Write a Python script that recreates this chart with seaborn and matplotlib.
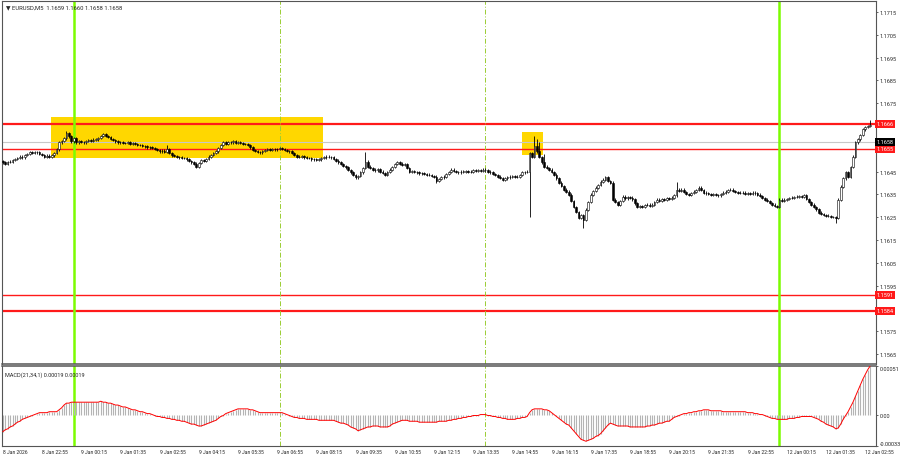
import numpy as np
import pandas as pd
import matplotlib.pyplot as plt
import matplotlib.transforms as mtransforms
from matplotlib.patches import Rectangle
import seaborn as sns

# EURUSD M5 closes, in points (0.00001) above 1.16000, one per bar
close_pts = [
    490, 485, 492, 494, 500, 505, 510, 516, 512, 522,
    528, 534, 530, 536, 534, 528, 522, 516, 520, 514,
    521, 530, 547, 578, 585, 595, 618, 604, 582, 596,
    578, 584, 580, 578, 583, 587, 584, 590, 591, 598,
    606, 613, 605, 600, 594, 588, 582, 578, 580, 575,
    574, 578, 571, 574, 570, 568, 565, 562, 560, 556,
    558, 552, 548, 544, 538, 542, 536, 547, 530, 521,
    518, 515, 512, 508, 510, 503, 497, 490, 485, 472,
    488, 499, 496, 506, 516, 524, 530, 538, 552, 566,
    578, 572, 581, 578, 583, 576, 578, 574, 570, 572,
    565, 556, 543, 540, 536, 534, 540, 544, 547, 544,
    550, 547, 550, 552, 548, 545, 540, 538, 530, 522,
    516, 514, 518, 512, 508, 510, 503, 506, 500, 503,
    508, 512, 516, 514, 512, 505, 498, 490, 482, 475,
    468, 458, 446, 436, 424, 432, 446, 465, 494, 472,
    466, 459, 455, 462, 450, 444, 437, 448, 459, 470,
    482, 490, 485, 478, 481, 466, 450, 452, 448, 446,
    442, 445, 440, 437, 434, 431, 428, 410, 418, 424,
    428, 440, 448, 459, 452, 448, 446, 450, 450, 454,
    448, 450, 456, 452, 455, 452, 459, 455, 450, 446,
    440, 434, 428, 422, 415, 420, 424, 428, 432, 426,
    428, 436, 446, 448, 450, 530, 516, 560, 538, 515,
    490, 472, 466, 459, 448, 437, 420, 402, 388, 371,
    362, 349, 320, 296, 272, 248, 260, 239, 283, 318,
    349, 365, 380, 392, 406, 415, 424, 410, 402, 327,
    318, 305, 322, 340, 332, 338, 336, 328, 310, 296,
    300, 296, 302, 305, 300, 305, 315, 327, 320, 330,
    327, 334, 330, 336, 345, 371, 365, 371, 360, 352,
    349, 356, 362, 370, 380, 368, 358, 354, 350, 349,
    352, 346, 345, 350, 358, 362, 368, 371, 366, 360,
    358, 355, 358, 353, 356, 352, 358, 354, 349, 342,
    335, 327, 320, 312, 305, 300, 296, 327, 322, 327,
    330, 333, 336, 338, 340, 342, 338, 345, 330, 318,
    305, 296, 284, 270, 264, 260, 257, 255, 252, 250,
    248, 327, 384, 420, 446, 428, 470, 516, 578, 591,
    610, 635, 644, 650, 655,
]
# bars whose wick sticks out further than usual (bar index: points)
spike_high = {26: 627, 67: 565, 148: 534, 217: 604, 218: 591, 219: 580,
              221: 525, 275: 406, 354: 675}
spike_low = {177: 402, 215: 252, 237: 204, 340: 226}

# MACD(21,34,1) main line in points (0.00001)
macd_pts = [
    -18, -16, -15, -13, -12, -10, -8, -7, -5, -4,
    -3, -2, -1, 0, 1, 2, 2, 2, 2, 3,
    3, 3, 3, 5, 7, 10, 12, 12, 13, 13,
    13, 13, 13, 13, 13, 13, 13, 13, 13, 13,
    14, 13, 13, 12, 12, 11, 10, 10, 9, 8,
    8, 7, 6, 5, 5, 4, 3, 3, 2, 1,
    1, 0, -1, -2, -2, -3, -3, -4, -4, -5,
    -5, -6, -6, -7, -7, -8, -9, -10, -10, -11,
    -12, -12, -11, -10, -9, -8, -7, -6, -4, -2,
    -1, 1, 2, 3, 4, 5, 6, 6, 6, 6,
    6, 5, 5, 4, 3, 2, 2, 2, 2, 2,
    2, 2, 2, 2, 2, 1, 0, -1, -2, -3,
    -3, -4, -4, -4, -5, -5, -5, -5, -5, -6,
    -6, -6, -6, -6, -6, -6, -7, -8, -9, -9,
    -10, -11, -13, -14, -15, -17, -16, -15, -14, -13,
    -13, -12, -12, -12, -13, -13, -13, -13, -12, -10,
    -9, -8, -7, -6, -6, -6, -7, -7, -7, -7,
    -8, -8, -8, -8, -8, -8, -8, -8, -7, -7,
    -7, -7, -6, -6, -5, -5, -4, -4, -3, -3,
    -2, -2, -1, -1, -1, 0, 0, 0, -1, -1,
    -2, -2, -3, -3, -4, -4, -5, -5, -5, -5,
    -4, -4, -3, -3, -2, 2, 5, 6, 6, 6,
    6, 5, 5, 4, 2, 0, -2, -4, -6, -8,
    -10, -11, -14, -17, -20, -23, -26, -27, -28, -27,
    -26, -25, -23, -22, -20, -17, -14, -11, -9, -10,
    -11, -12, -12, -12, -12, -12, -13, -13, -13, -13,
    -13, -13, -13, -12, -12, -11, -11, -10, -9, -9,
    -8, -7, -7, -5, -3, -2, -1, 0, 1, 1,
    2, 2, 3, 3, 4, 4, 5, 5, 5, 4,
    4, 4, 4, 4, 3, 3, 3, 3, 3, 3,
    3, 3, 3, 3, 2, 2, 2, 1, 1, 0,
    0, -1, -2, -3, -4, -4, -5, -5, -5, -5,
    -5, -4, -4, -4, -3, -3, -2, -2, -2, -2,
    -2, -3, -4, -5, -7, -8, -10, -11, -12, -13,
    -15, -14, -10, -5, -1, 3, 8, 13, 19, 25,
    31, 37, 42, 47, 51,
]

time_labels = [
    "8 Jan 2026", "8 Jan 22:55", "9 Jan 00:15", "9 Jan 01:35", "9 Jan 02:55",
    "9 Jan 04:15", "9 Jan 05:35", "9 Jan 06:55", "9 Jan 08:15", "9 Jan 09:35",
    "9 Jan 10:55", "9 Jan 12:15", "9 Jan 13:35", "9 Jan 14:55", "9 Jan 16:15",
    "9 Jan 17:35", "9 Jan 18:55", "9 Jan 20:15", "9 Jan 21:35", "9 Jan 22:55",
    "12 Jan 00:15", "12 Jan 01:35", "12 Jan 02:55",
]
price_ticks = [1.1565, 1.1575, 1.1585, 1.1595, 1.1605, 1.1615, 1.1625, 1.1635,
               1.1645, 1.1655, 1.1665, 1.1675, 1.1685, 1.1695, 1.1705, 1.1715]
hidden_ticks = [1.1585, 1.1655, 1.1665]  # covered by the level tags

levels = [1.1666, 1.1655, 1.1591, 1.1584]
bid = 1.1658
zone_bars = [(19.6, 130.6), (212.0, 220.5)]
zone_prices = [(1.16511, 1.16691), (1.16521, 1.16622)]
day_bars = [29, 317]      # 9 Jan 00:00, 12 Jan 00:00
session_bars = [113, 197]  # 9 Jan 07:00, 9 Jan 14:00

sns.set_style("white")
plt.rcParams["font.family"] = ["Roboto", "DejaVu Sans"]

close = 1.16 + np.array(close_pts) / 1e5
df = pd.DataFrame({"bar": np.arange(len(close)), "close": close})
df["open"] = df["close"].shift(1).fillna(df["close"].iloc[0] + 0.00005)
wick = 0.00005
df["high"] = df[["open", "close"]].max(axis=1) + wick
df["low"] = df[["open", "close"]].min(axis=1) - wick
for k, v in spike_high.items():
    df.loc[k, "high"] = 1.16 + v / 1e5
for k, v in spike_low.items():
    df.loc[k, "low"] = 1.16 + v / 1e5
df["macd"] = np.array(macd_pts) / 1e5

fig = plt.figure(figsize=(9, 4.6), dpi=100)
ax = fig.add_axes([2 / 900, 1 - 365 / 460, 874 / 900, 363 / 460])
mx = fig.add_axes([2 / 900, 1 - 447 / 460, 874 / 900, 80 / 460])

# zones + levels
for (b0, b1), (p0, p1) in zip(zone_bars, zone_prices):
    ax.add_patch(Rectangle((b0, p0), b1 - b0, p1 - p0, facecolor="#ffd700",
                           edgecolor="none", zorder=0))
for lv, lw in zip(levels, [1.6, 1.0, 1.0, 1.6]):
    ax.axhline(lv, color="#ff1a1a", lw=lw, zorder=1)
ax.axhline(bid, color="#c8c8c8", lw=0.8, zorder=1)

for b in day_bars:
    ax.axvline(b, color="#7cfc00", lw=1.8, zorder=1)
    mx.axvline(b, color="#7cfc00", lw=1.8, zorder=1)
for b in session_bars:
    ax.axvline(b, color="#9acd32", lw=0.7, ls=(0, (5, 2, 1, 2)), zorder=1)
    mx.axvline(b, color="#9acd32", lw=0.7, ls=(0, (5, 2, 1, 2)), zorder=1)

# candles
up = df["close"] >= df["open"]
ax.vlines(df["bar"], df["low"], df["high"], color="black", lw=0.6, zorder=3)
body = (df["close"] - df["open"]).abs().clip(lower=0.00001)
bot = df[["open", "close"]].min(axis=1)
ax.bar(df["bar"][up], body[up], bottom=bot[up], width=0.7, color="white",
       edgecolor="black", lw=0.4, zorder=4)
ax.bar(df["bar"][~up], body[~up], bottom=bot[~up], width=0.7, color="black",
       edgecolor="black", lw=0.4, zorder=4)

ax.set_xlim(-0.3, 356.4)
ax.set_ylim(1.15606, 1.17198)
ax.yaxis.tick_right()
ax.set_yticks(price_ticks)
ax.set_yticklabels(["" if p in hidden_ticks else f"{p:.4f}" for p in price_ticks])
ax.tick_params(axis="y", direction="out", length=1.5, width=0.5, labelsize=4, pad=1)
ax.tick_params(axis="x", bottom=False, labelbottom=False)

tr = mtransforms.blended_transform_factory(ax.transAxes, ax.transData)
for lv in levels:
    ax.text(1.001, lv, f"{lv:.4f}", transform=tr, color="white", fontsize=4,
            va="center", ha="left", clip_on=False, zorder=10,
            bbox=dict(facecolor="#ff1a1a", edgecolor="none", pad=1.0))
ax.text(1.001, bid, f"{bid:.4f}", transform=tr, color="white", fontsize=4,
        va="center", ha="left", clip_on=False, zorder=10,
        bbox=dict(facecolor="black", edgecolor="none", pad=1.0))
ax.text(0.005, 0.99, "\u25bc EURUSD,M5  1.1659 1.1660 1.1658 1.1658",
        transform=ax.transAxes, fontsize=4.2, va="top", ha="left")

# MACD
mx.vlines(df["bar"], 0, df["macd"], color="#b4b4b4", lw=0.8, zorder=2)
sns.lineplot(data=df, x="bar", y="macd", color="red", lw=0.7, ax=mx, zorder=3)
mx.set_xlabel("")
mx.set_ylabel("")
mx.set_xlim(-0.3, 356.4)
mx.set_ylim(-0.00033, 0.00051)
mx.yaxis.tick_right()
mx.set_yticks([-0.00033, 0, 0.00051])
mx.set_yticklabels(["-0.00033", "0.00", "0.00051"])
labs = mx.get_yticklabels()
labs[0].set_va("bottom")
labs[2].set_va("top")
mx.tick_params(axis="y", direction="out", length=1.5, width=0.5, labelsize=4, pad=1)
mx.set_xticks(np.arange(len(time_labels)) * 16)
mx.set_xticklabels(time_labels, ha="left")
mx.tick_params(axis="x", direction="out", length=1.5, width=0.5, labelsize=3.6, pad=1)
mx.text(0.004, 0.94, "MACD(21,34,1) 0.00019 0.00019", transform=mx.transAxes,
        fontsize=4, va="top", ha="left")

for a in (ax, mx):
    for s in a.spines.values():
        s.set_color("#555555")
        s.set_linewidth(0.8)
ax.spines["bottom"].set_linewidth(1.1)
mx.spines["top"].set_linewidth(1.1)

fig.savefig("out.png", dpi=100)
